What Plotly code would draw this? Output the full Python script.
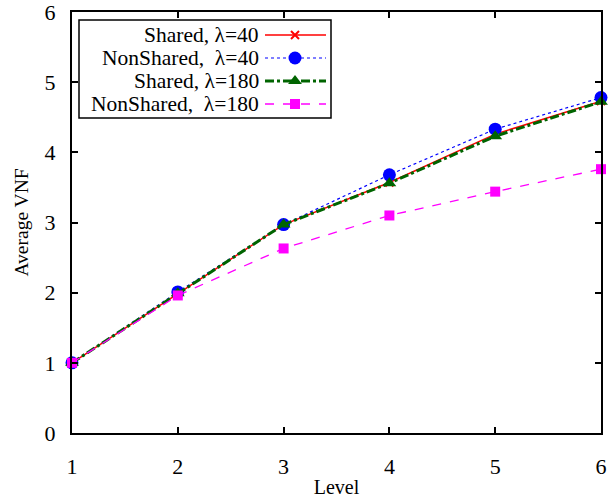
import plotly.graph_objects as go

levels = [1, 2, 3, 4, 5, 6]
shared_40 = [1.0, 1.99, 2.97, 3.57, 4.26, 4.73]
nonshared_40 = [1.0, 2.01, 2.97, 3.68, 4.33, 4.78]
shared_180 = [1.0, 1.99, 2.97, 3.56, 4.23, 4.72]
nonshared_180 = [1.0, 1.96, 2.63, 3.10, 3.44, 3.76]

names = ["Shared, \u03bb=40", "NonShared,\u00a0 \u03bb=40", "Shared, \u03bb=180", "NonShared,\u00a0 \u03bb=180"]
series = [shared_40, nonshared_40, shared_180, nonshared_180]
colors = ["#ff0000", "#0000ff", "#006400", "#ff00ff"]
dashes = ["solid", "dot", "dashdot", "dash"]
widths = [1.5, 1.2, 3, 1.3]
symbols = ["x-thin-open", "circle", "triangle-up", "square"]
msizes = [8, 13, 12, 10]

FONT = "Liberation Serif"

fig = go.Figure()
for name, ys, c, d, w, s, ms in zip(names, series, colors, dashes, widths, symbols, msizes):
    mk = dict(symbol=s, size=ms, color=c)
    if s == "x-thin-open":
        mk["line"] = dict(color=c, width=2)
    fig.add_trace(go.Scatter(x=levels, y=ys, mode="lines+markers", name=name,
                             line=dict(color=c, dash=d, width=w), marker=mk,
                             showlegend=False, cliponaxis=False))

# custom legend (gnuplot style: text right, sample on the right)
W, H = 529.0, 421.0
def px(x):
    return (x - 72) / W
def py(y):
    return (433 - y) / H

fig.add_shape(type="rect", xref="paper", yref="paper",
              x0=px(79), x1=px(331), y0=py(118), y1=py(20),
              line=dict(color="black", width=1.5), fillcolor="white", layer="below")
rows = [35, 58, 81, 104]
for i, (name, c, d, w) in enumerate(zip(names, colors, dashes, widths)):
    yy = py(rows[i])
    fig.add_annotation(xref="paper", yref="paper", x=px(260), y=yy, text=name,
                       showarrow=False, xanchor="right", yanchor="middle",
                       borderpad=0,
                       font=dict(family=FONT, size=21.5, color="black"))
    fig.add_shape(type="line", xref="paper", yref="paper",
                  x0=px(265), x1=px(326), y0=yy, y1=yy,
                  line=dict(color=c, dash=d, width=w), layer="below")
for i, (c, s, ms) in enumerate(zip(colors, symbols, msizes)):
    mk = dict(symbol=s, size=ms, color=c)
    if s == "x-thin-open":
        mk["line"] = dict(color=c, width=2)
    fig.add_trace(go.Scatter(x=[px(295)], y=[py(rows[i])], mode="markers",
                             marker=mk, xaxis="x2", yaxis="y2", cliponaxis=False,
                             showlegend=False, hoverinfo="skip"))

axis_common = dict(showline=True, linecolor="black", linewidth=2, mirror="ticks",
                   ticks="inside", ticklen=6, tickwidth=1.5, tickcolor="black",
                   showgrid=False, zeroline=False, automargin=False,
                   ticklabeloverflow="allow",
                   tickfont=dict(family=FONT, size=22, color="black"))

fig.update_layout(
    width=610, height=500,
    margin=dict(l=72, r=9, t=12, b=67),
    plot_bgcolor="white", paper_bgcolor="white",
    xaxis=dict(range=[1, 6], tickvals=levels, ticklabelstandoff=13,
               title=dict(text="Level", font=dict(family=FONT, size=20, color="black"), standoff=2),
               **axis_common),
    yaxis=dict(range=[0, 6], tickvals=[0, 1, 2, 3, 4, 5, 6], ticklabelstandoff=10,
               title=dict(text="Average VNF", font=dict(family=FONT, size=19.5, color="black"), standoff=11),
               **axis_common),
    xaxis2=dict(range=[0, 1], domain=[0, 1], visible=False, anchor="y2", overlaying="x"),
    yaxis2=dict(range=[0, 1], domain=[0, 1], visible=False, anchor="x2", overlaying="y"),
    showlegend=False,
)

fig.write_html("out.html", config={"displayModeBar": False},
               post_script="document.body.style.margin='0';")
